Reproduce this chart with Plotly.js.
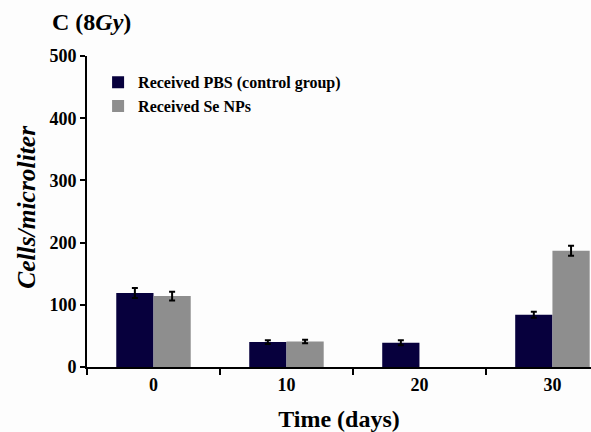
<!DOCTYPE html>
<html>
<head>
<meta charset="utf-8">
<script src="https://cdn.plot.ly/plotly-3.0.1.min.js"></script>
<style>html,body{margin:0;padding:0;background:#fdfdfd;}#chart{width:591px;height:432px;}</style>
</head>
<body>
<div id="chart"></div>
<script>
const days = ["0", "10", "20", "30"];
const pbsValues = [119, 40, 39, 84];
const pbsErrors = [8, 3, 4, 5];
const seValues = [114, 41, null, 187];
const seErrors = [7, 3, null, 8];
const seriesNames = ["Received PBS (control group)", "Received Se NPs"];

const font = "Liberation Serif, Times New Roman, serif";

const traces = [
  {
    type: "bar", name: seriesNames[0], x: days, y: pbsValues, legendgroup: "a",
    marker: {color: "#07003d", line: {width: 0}},
    error_y: {type: "data", array: pbsErrors, visible: true, color: "#000", thickness: 2, width: 3}
  },
  {
    type: "bar", name: seriesNames[1], x: days, y: seValues, legendgroup: "b",
    marker: {color: "#8e8e8e", line: {width: 0}},
    error_y: {type: "data", array: seErrors, visible: true, color: "#000", thickness: 2, width: 3}
  }
];

const layout = {
  width: 591, height: 432,
  paper_bgcolor: "#fdfdfd", plot_bgcolor: "#fdfdfd",
  margin: {l: 87, r: 0, t: 56, b: 65},
  barmode: "group", bargap: 0.44, bargroupgap: 0,
  font: {family: font, color: "#000"},
  title: {text: "C (8<i>Gy</i>)", x: 52 / 591, xanchor: "left", y: 1 - 22 / 432, yanchor: "middle",
          font: {family: font, size: 24, weight: "bold", color: "#000"}},
  showlegend: true,
  legend: {x: 0.022, y: 0.97, xanchor: "left", yanchor: "top", bgcolor: "rgba(0,0,0,0)",
           font: {family: font, size: 16, weight: "bold", color: "#000"}, traceorder: "grouped", tracegroupgap: 0,
           itemwidth: 30},
  xaxis: {
    type: "category", range: [-0.5, 3.29], showgrid: false, zeroline: false,
    showline: true, linecolor: "#000", linewidth: 2,
    ticks: "outside", tickson: "boundaries", ticklen: 6, tickwidth: 2, tickcolor: "#000",
    tickfont: {family: font, size: 18, weight: "bold", color: "#000"},
    title: {text: "Time (days)", font: {family: font, size: 24, weight: "bold", color: "#000"}, standoff: 19}
  },
  yaxis: {
    range: [0, 500], tickvals: [0, 100, 200, 300, 400, 500], showgrid: false, zeroline: false,
    showline: true, linecolor: "#000", linewidth: 2,
    ticks: "outside", ticklen: 5, tickwidth: 2, tickcolor: "#000",
    tickfont: {family: font, size: 18, weight: "bold", color: "#000"}
  },
  annotations: [{
    text: "<i>Cells/microliter</i>", xref: "paper", yref: "paper", x: -60 / 504, y: 0.515,
    xanchor: "center", yanchor: "middle", textangle: -90, showarrow: false,
    font: {family: font, size: 25.5, weight: "bold", color: "#000"}
  }]
};

Plotly.newPlot("chart", traces, layout, {displayModeBar: false, staticPlot: true});
</script>
</body>
</html>
